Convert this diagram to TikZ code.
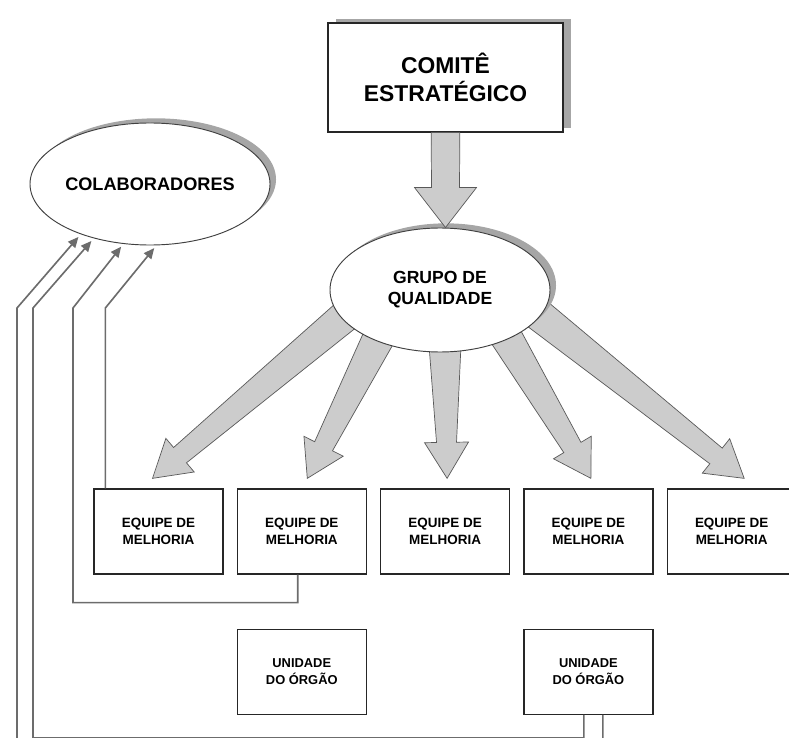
\documentclass[tikz,border=0pt]{standalone}
\usepackage{fontspec}
\setmainfont{Liberation Sans}
\usetikzlibrary{chains,positioning,shapes,shadows,calc,arrows.meta}

\begin{document}
\begin{tikzpicture}[x=0.03cm,y=-0.03cm]
    \useasboundingbox (0,0) rectangle (789,738);
    \tikzstyle{every node}=[font=\bfseries,align=center,inner sep=0pt]

    \tikzstyle{bigbox}=[rectangle,draw=black!85,line width=1.1pt,fill=white,
                        minimum width=7.05cm,minimum height=3.27cm,
                        font=\bfseries\fontsize{19.5}{24}\selectfont,
                        general shadow={fill=gray!70,shadow xshift=.24cm,shadow yshift=.12cm}]
    \tikzstyle{bubble}=[ellipse,draw=black!75,line width=.8pt,fill=white,
                        general shadow={fill=gray!70,shadow xshift=.18cm,shadow yshift=.14cm}]
    \tikzstyle{teambox}=[rectangle,draw=black!85,line width=1.1pt,fill=white,
                        minimum width=3.87cm,minimum height=2.55cm,
                        font=\bfseries\fontsize{11.5}{14.5}\selectfont]
    \tikzstyle{fatarr}=[draw=black!65,line width=.6pt,fill=gray!40,line join=miter]
    \tikzstyle{feedback}=[draw=gray!85!black,line width=1.4pt,shorten >=3pt,
                        -{Triangle[length=9pt,width=8pt]}]

    % fat arrow: from, to, half shaft at start, half shaft at end, half head, head length
    \newcommand\fatarrow[6]{%
        \draw[fatarr] ($(#1)!#3!90:(#2)$) -- ($(#2)!#6!(#1)!#4!90:(#2)$)
            -- ($(#2)!#6!(#1)!#5!90:(#2)$) -- (#2)
            -- ($(#2)!#6!(#1)!#5!-90:(#2)$) -- ($(#2)!#6!(#1)!#4!-90:(#2)$)
            -- ($(#1)!#3!-90:(#2)$) -- cycle;}

    % Top of the hierarchy
    \node [bigbox] (comite) at (445.5,77.5) {COMITÊ\\ESTRATÉGICO};
    \node [bubble,minimum width=7.2cm,minimum height=3.66cm,
           font=\bfseries\fontsize{15.5}{18}\selectfont] (colab) at (150,184) {COLABORADORES};

    % Row of improvement teams
    \begin{scope}[start chain=going right,node distance=0.39cm]
        \node [on chain,teambox] (eq1) at (158.5,531.5) {EQUIPE DE\\MELHORIA};
        \node [on chain,teambox] (eq2) {EQUIPE DE\\MELHORIA};
        \node [on chain,teambox] (eq3) {EQUIPE DE\\MELHORIA};
        \node [on chain,teambox] (eq4) {EQUIPE DE\\MELHORIA};
        \node [on chain,teambox] (eq5) {EQUIPE DE\\MELHORIA};
    \end{scope}

    \node [teambox,below=1.62cm of eq2,font=\bfseries\fontsize{11}{14.5}\selectfont] (un1) {UNIDADE\\DO ÓRGÃO};
    \node [teambox,below=1.62cm of eq4,font=\bfseries\fontsize{11}{14.5}\selectfont] (un2) {UNIDADE\\DO ÓRGÃO};

    % Arrows out of the quality group (drawn under its ellipse)
    \coordinate (gq) at (440,290);
    \fatarrow{$(gq)+(-90,22)$}{$(eq1.north)+(-6,-10)$}{.48cm}{.3cm}{.66cm}{1.08cm}
    \fatarrow{$(gq)+(-60,45)$}{$(eq2.north)+(5.5,-10)$}{.48cm}{.3cm}{.66cm}{1.08cm}
    \fatarrow{$(gq)+(5,55)$}{$(eq3.north)+(2,-10)$}{.48cm}{.3cm}{.66cm}{1.08cm}
    \fatarrow{$(gq)+(65,45)$}{$(eq4.north)+(2.5,-10)$}{.48cm}{.3cm}{.66cm}{1.08cm}
    \fatarrow{$(gq)+(95,22)$}{$(eq5.north)+(12.5,-10)$}{.48cm}{.3cm}{.66cm}{1.08cm}

    \node [bubble,minimum width=6.6cm,minimum height=3.72cm,
           font=\bfseries\fontsize{15}{18}\selectfont] (grupo) at (gq) {GRUPO DE\\QUALIDADE};

    % Committee down to the group
    \fatarrow{comite.south}{comite.south |- grupo.north}{.43cm}{.42cm}{.93cm}{1.2cm}

    % Feedback lines up to the collaborators
    \coordinate (turn) at (0,308);
    \coordinate (d0) at ($(eq1.north west)+(12,0)$);
    \coordinate (c0) at ($(eq2.south)+(-4,0)$);
    \coordinate (b0) at ($(un2.south)+(-4.5,0)$);
    \coordinate (a0) at ($(un2.south)+(14.5,0)$);

    \draw [feedback] (d0) -- (d0 |- turn) -- (colab.276);
    \draw [feedback] (c0) -- ++(0,28) -| ($(turn)+(73,0)$) -- (colab.246);
    \draw [feedback] (b0) -- ++(0,23) -| ($(turn)+(33,0)$) -- (colab.224);
    \draw [feedback] (a0) -- ++(0,36) -| ($(turn)+(17,0)$) -- (colab.216);
\end{tikzpicture}
\end{document}
